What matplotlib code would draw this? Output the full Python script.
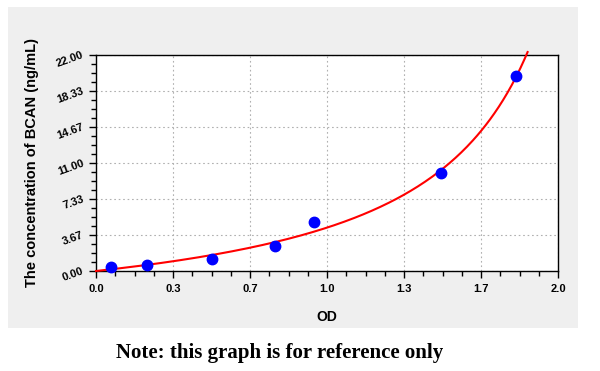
import numpy as np
import matplotlib
matplotlib.use("Agg")
import matplotlib.pyplot as plt
from matplotlib.patches import Rectangle
from matplotlib.ticker import MultipleLocator, FixedLocator

# standard points
od = [0.065, 0.22, 0.503, 0.776, 0.945, 1.495, 1.82]
conc = [0.38, 0.61, 1.26, 2.52, 5.02, 9.98, 19.9]

x_ticks = [0.0, 1/3, 2/3, 1.0, 4/3, 5/3, 2.0]
x_labels = ["0.0", "0.3", "0.7", "1.0", "1.3", "1.7", "2.0"]
y_ticks = [0.0, 22/6, 44/6, 11.0, 88/6, 110/6, 22.0]
y_labels = ["0.00", "3.67", "7.33", "11.00", "14.67", "18.33", "22.00"]


def fit_curve(x, y):
    # y = c*x/(d-x), c by least squares for each d
    x = np.asarray(x)
    y = np.asarray(y)
    best = None
    for d in np.linspace(1.9, 4.0, 2101):
        g = x / (d - x)
        c = (g @ y) / (g @ g)
        err = np.sum((c * g - y) ** 2)
        if best is None or err < best[0]:
            best = (err, c, d)
    return best[1], best[2]


c, d = fit_curve(od, conc)
x_end = 22.3 * d / (c + 22.3)
xs = np.linspace(0, x_end, 300)
ys = c * xs / (d - xs)

fig = plt.figure(figsize=(6, 3.71), dpi=100)
fig.patch.set_facecolor("white")
bg = fig.add_axes([0, 0, 1, 1], zorder=0)
bg.set_axis_off()
bg.add_patch(Rectangle((8 / 600, 1 - 328 / 371), 570 / 600, 321 / 371,
                       transform=fig.transFigure, facecolor="#efefef",
                       edgecolor="none"))

ax = fig.add_axes([96 / 600, 1 - 271 / 371, 462 / 600, 216 / 371], zorder=1)
ax.set_facecolor("white")
ax.set_xlim(0, 2.0)
ax.set_ylim(0, 22.0)

ax.xaxis.set_major_locator(FixedLocator(x_ticks))
ax.xaxis.set_minor_locator(MultipleLocator(1 / 12))
ax.yaxis.set_major_locator(FixedLocator(y_ticks))
ax.yaxis.set_minor_locator(MultipleLocator(22 / 24))
ax.set_xticklabels(x_labels, fontsize=8, fontweight="bold", family="Liberation Sans")
ax.set_yticklabels(y_labels, fontsize=8, fontweight="bold", family="Liberation Sans",
                   rotation=20, ha="right", va="center", rotation_mode="anchor")
ax.tick_params(which="major", length=5, width=1, direction="out", pad=4)
ax.tick_params(which="minor", length=3.5, width=1, direction="out")
ax.grid(True, which="major", color="#b0b0b0", linestyle=(0, (1.5, 2.5)), linewidth=0.8)
for s in ax.spines.values():
    s.set_linewidth(1)

ax.plot(xs, ys, color="red", linewidth=1.5, clip_on=False, zorder=3)
ax.plot(od, conc, "o", color="blue", markersize=7.5, zorder=4, clip_on=False)

ax.set_xlabel("OD", fontsize=10, fontweight="bold", family="Liberation Sans", labelpad=12)
ax.set_ylabel("The concentration of BCAN (ng/mL)", fontsize=10.5, fontweight="bold",
              family="Liberation Sans", labelpad=12)

fig.text(280 / 600, 1 - 353 / 371, "Note: this graph is for reference only",
         ha="center", va="center", fontsize=15, fontweight="bold",
         family="Liberation Serif")

fig.savefig("out.png", dpi=100)
